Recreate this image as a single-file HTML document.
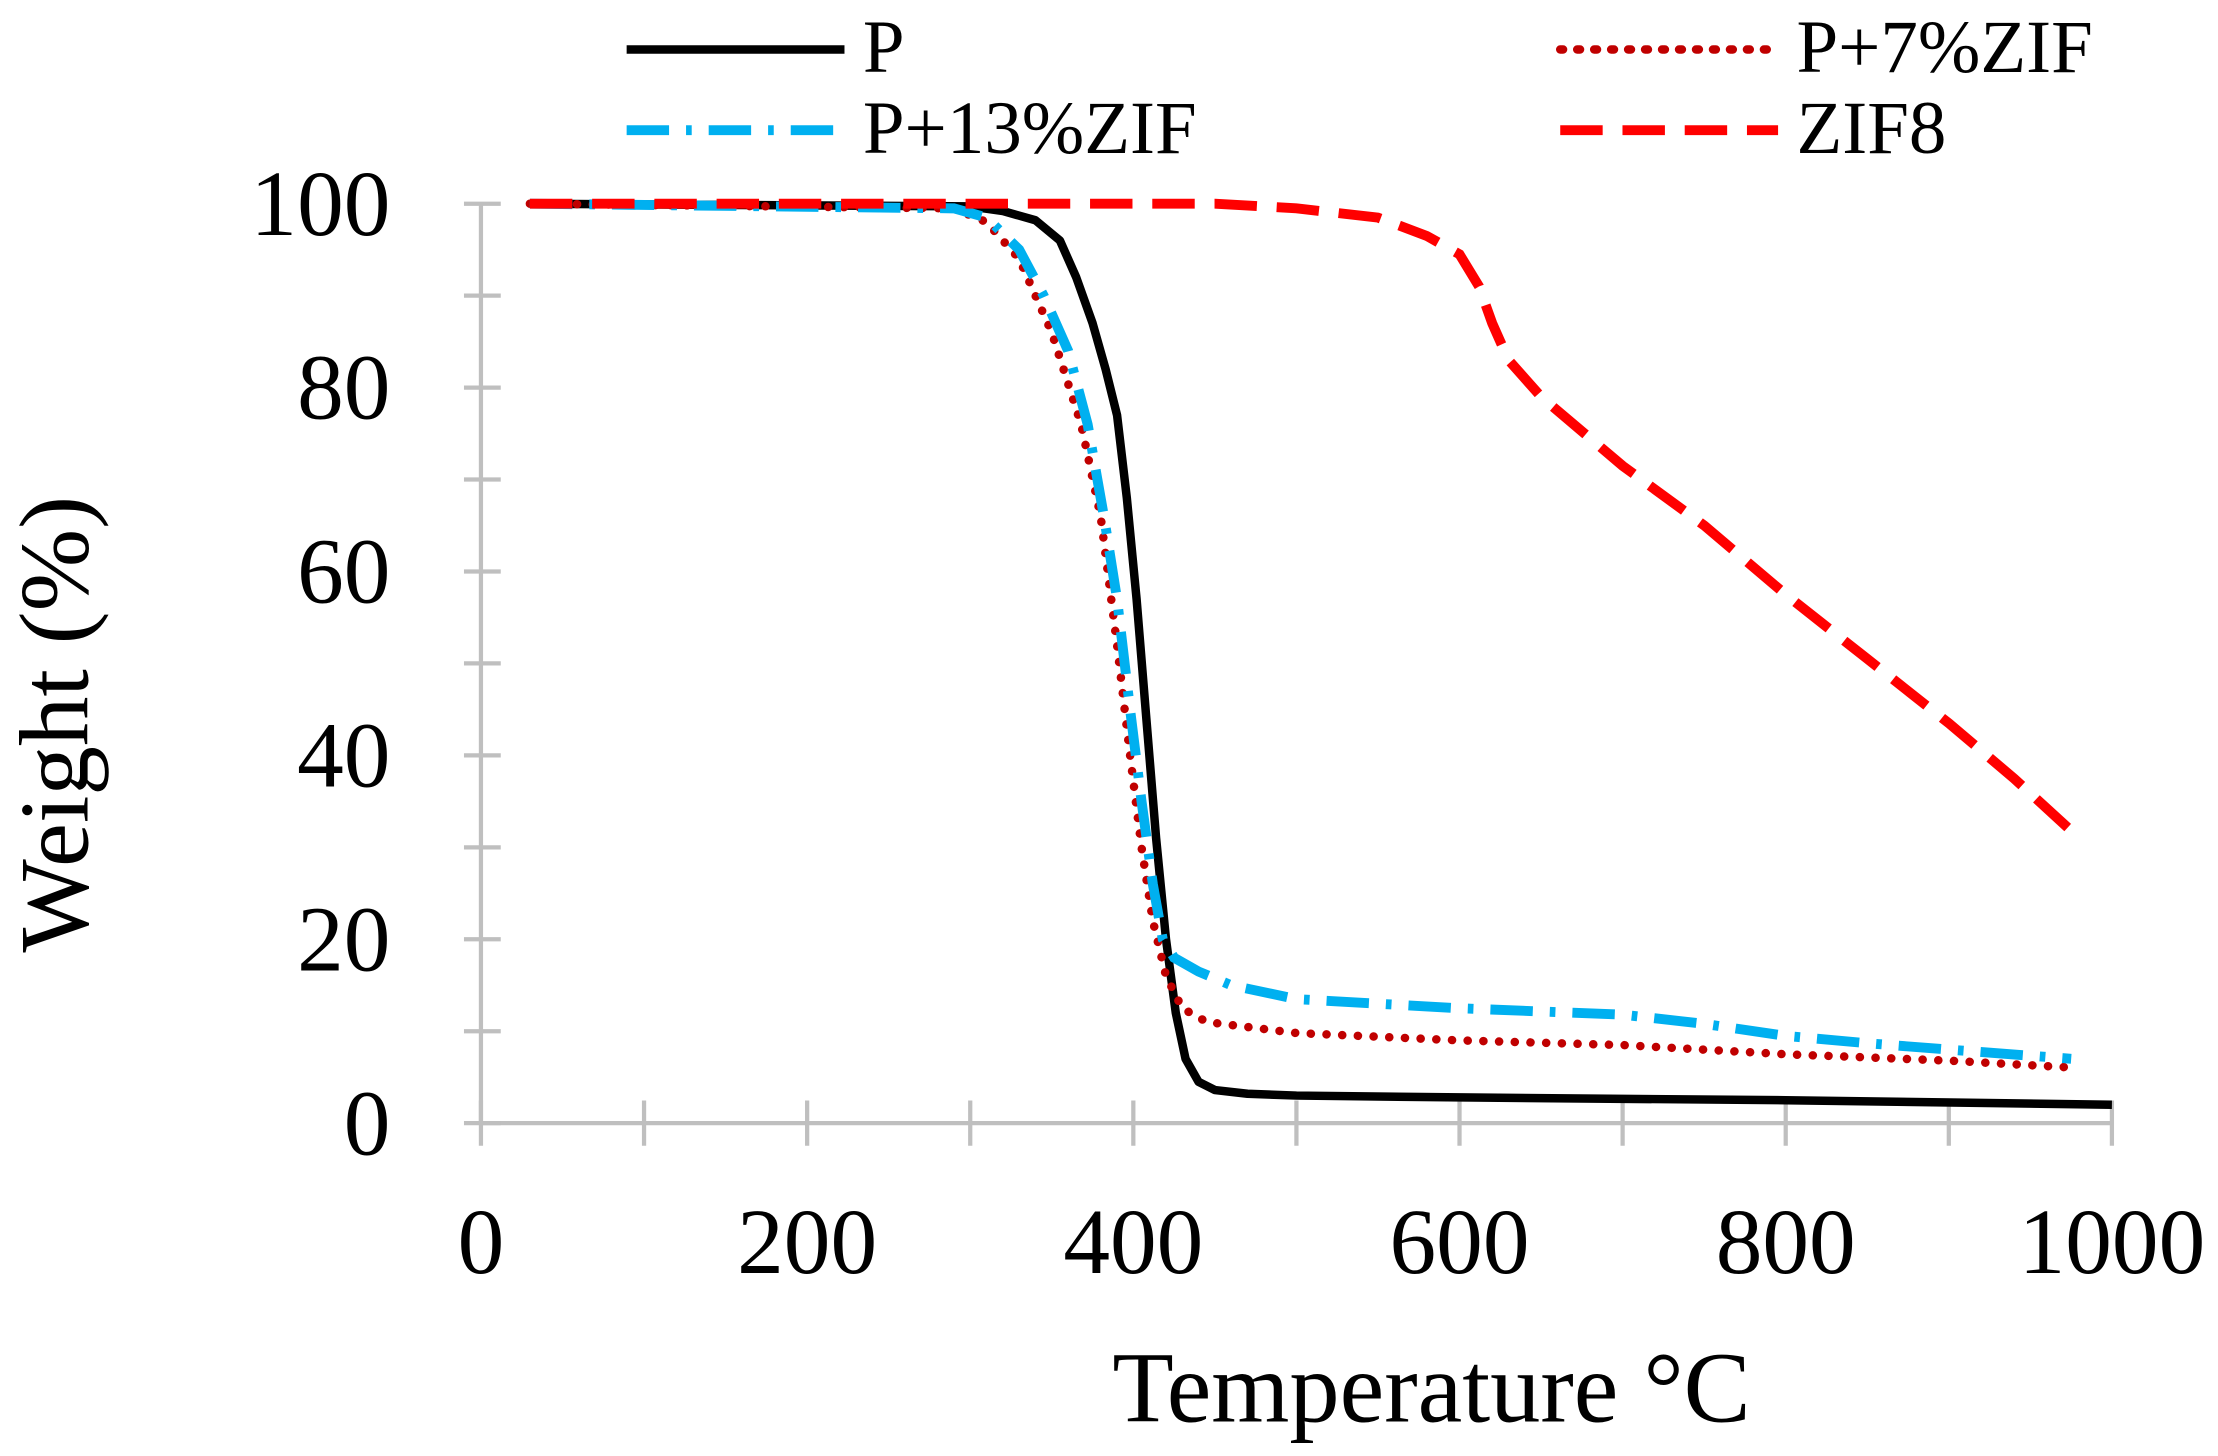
<!DOCTYPE html>
<html><head><meta charset="utf-8"><style>
html,body{margin:0;padding:0;background:#fff;}
svg{display:block;}
text{font-family:"Liberation Serif",serif;fill:#000;}
</style></head><body>
<svg id="s" width="2218" height="1456" viewBox="0 0 1568 1029.3" xmlns="http://www.w3.org/2000/svg">
<rect width="1568" height="1029.3" fill="#fff"/>
<g id="axes" stroke="#bfbfbf" stroke-width="3" fill="none"></g>
<g id="series" fill="none"></g>
<g font-size="66" text-anchor="end" id="yl"></g>
<g font-size="66" text-anchor="middle" id="xl"></g>
<text x="1012" y="1005" font-size="71" text-anchor="middle">Temperature °C</text>
<text transform="translate(62,512) rotate(-90)" font-size="70" text-anchor="middle">Weight (%)</text>
<g font-size="53">
<line x1="443" y1="35" x2="597" y2="35" stroke="#000" stroke-width="6"/>
<text x="610" y="51">P</text>
<line x1="1103" y1="35" x2="1257" y2="35" stroke="#c00000" stroke-width="6" stroke-dasharray="2 10" stroke-linecap="round"/>
<text x="1270" y="51">P+7%ZIF</text>
<line x1="443" y1="92" x2="597" y2="92" stroke="#00b0f0" stroke-width="7" stroke-dasharray="30 12 4 12"/>
<text x="610" y="108">P+13%ZIF</text>
<line x1="1103" y1="92" x2="1257" y2="92" stroke="#ff0000" stroke-width="7" stroke-dasharray="30 14"/>
<text x="1270" y="108">ZIF8</text>
</g>
</svg>
<script>
var ns="http://www.w3.org/2000/svg";
function X(t){return 340+t*1.153;}function Y(w){return 794-w*6.5;}
function el(p,tag,a){var e=document.createElementNS(ns,tag);for(var k in a)e.setAttribute(k,a[k]);p.appendChild(e);return e;}
var ax=document.getElementById('axes');
el(ax,'line',{x1:340,y1:144,x2:340,y2:794});
el(ax,'line',{x1:340,y1:794,x2:1493,y2:794});
for(var w=0;w<=100;w+=10)el(ax,'line',{x1:328,y1:Y(w),x2:354,y2:Y(w)});
for(var t=0;t<=1000;t+=100)el(ax,'line',{x1:X(t),y1:778,x2:X(t),y2:810});
var yl=document.getElementById('yl');
for(var w=0;w<=100;w+=20){var e=el(yl,'text',{x:276,y:Y(w)+22});e.textContent=w;}
var xl=document.getElementById('xl');
for(var t=0;t<=1000;t+=200){var e=el(xl,'text',{x:X(t),y:900});e.textContent=t;}
function path(pts){var d='';pts.forEach(function(p,i){d+=(i?'L':'M')+X(p[0]).toFixed(1)+','+Y(p[1]).toFixed(1);});return d;}
var S=document.getElementById('series');
var zif=[[30,100],[450,100],[500,99.5],[550,98.5],[580,96.5],[600,94.5],[612,91],[620,87],[630,83],[650,79],[700,71.5],[750,65],[800,57.5],[850,50.5],[900,43.5],[940,37.5],[980,31]];
var p13=[[30,100],[290,99.5],[310,98.5],[330,95],[345,90],[360,84],[372,76],[382,66],[390,57],[398,45],[405,35],[412,26],[418,20],[425,18],[440,16.5],[460,15],[500,13.5],[600,12.5],[700,11.8],[750,10.8],[800,9.5],[850,8.7],[900,8],[975,7]];
var p7=[[30,100],[290,99.5],[310,98],[330,94],[350,86],[368,76],[380,66],[390,52],[398,40],[405,30],[412,22],[420,16],[430,12.5],[445,11],[500,9.8],[600,9],[700,8.5],[800,7.5],[900,6.8],[980,6]];
var p=[[30,100],[300,99.7],[320,99.2],[340,98.2],[355,96],[365,92],[375,87],[383,82],[390,77],[396,68],[402,57],[408,44],[414,31],[420,20],[426,12],[432,7],[440,4.5],[450,3.6],[470,3.2],[500,3],[600,2.8],[800,2.5],[1000,2]];
el(S,'path',{d:path(p),stroke:'#000','stroke-width':6,'stroke-linejoin':'round'});
el(S,'path',{d:path(p7),stroke:'#c00000','stroke-width':6,'stroke-dasharray':'0.1 11','stroke-linecap':'round'});
el(S,'path',{d:path(p13),stroke:'#00b0f0','stroke-width':7,'stroke-dasharray':'30 12 4 12'});
el(S,'path',{d:path(zif),stroke:'#ff0000','stroke-width':7,'stroke-dasharray':'30 14'});
</script>
</body></html>
